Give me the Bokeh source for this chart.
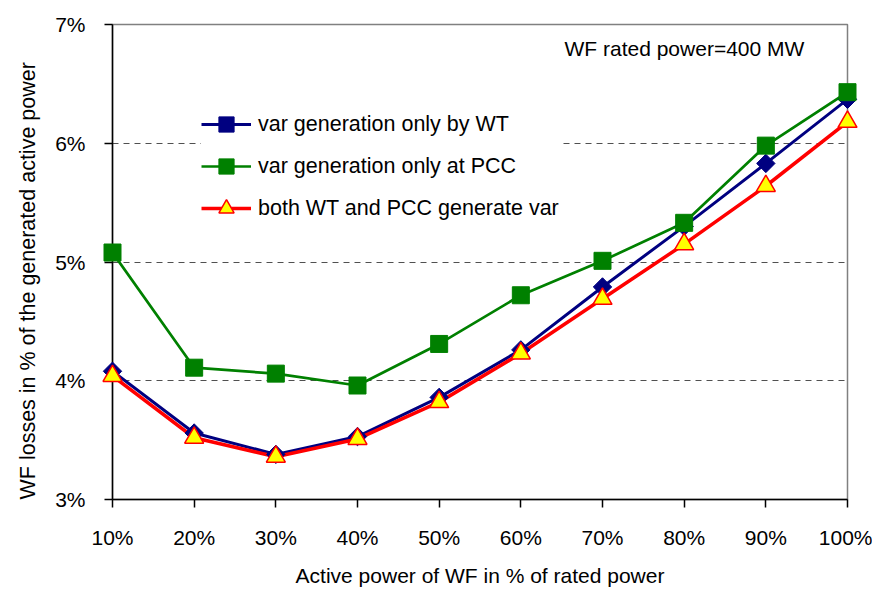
import math
from bokeh.plotting import figure
from bokeh.models import Range1d, FixedTicker, Legend, LegendItem, Label, Title
from bokeh.embed import file_html
from bokeh.resources import INLINE

# ---- data ----
power_pct = [10, 20, 30, 40, 50, 60, 70, 80, 90, 100]
x_tick_labels = ["10%", "20%", "30%", "40%", "50%", "60%", "70%", "80%", "90%", "100%"]
y_ticks = [3, 4, 5, 6, 7]
y_tick_labels = ["3%", "4%", "5%", "6%", "7%"]

loss_wt = [4.08, 3.56, 3.38, 3.53, 3.86, 4.26, 4.79, 5.30, 5.83, 6.37]
loss_pcc = [5.08, 4.11, 4.06, 3.96, 4.31, 4.72, 5.01, 5.33, 5.98, 6.43]
loss_both = [4.04, 3.52, 3.36, 3.51, 3.82, 4.23, 4.69, 5.15, 5.64, 6.18]

series_names = ["var generation only by WT", "var generation only at PCC",
                "both WT and PCC generate var"]

FONT = "Liberation Sans"

p = figure(width=872, height=596, x_range=Range1d(10, 100), y_range=Range1d(3, 7),
           output_backend="svg", toolbar_location=None,
           min_border_left=111, min_border_right=25, min_border_top=24,
           min_border_bottom=97)

p.outline_line_color = "#808080"
p.outline_line_width = 1.5
p.xgrid.grid_line_color = None
p.ygrid.grid_line_color = "#505050"
p.ygrid.grid_line_dash = "6 5"
p.ygrid.grid_line_width = 1

p.xaxis.ticker = FixedTicker(ticks=power_pct)
p.xaxis.major_label_overrides = {v: s for v, s in zip(power_pct, x_tick_labels)}
p.yaxis.ticker = FixedTicker(ticks=y_ticks)
p.yaxis.major_label_overrides = {v: s for v, s in zip(y_ticks, y_tick_labels)}

for ax in (p.xaxis, p.yaxis):
    ax.axis_line_color = "black"
    ax.axis_line_width = 1.5
    ax.major_tick_line_color = "black"
    ax.major_tick_line_width = 1.5
    ax.major_tick_in = 0
    ax.major_tick_out = 8
    ax.minor_tick_line_color = None
    ax.major_label_text_font = FONT
    ax.major_label_text_font_size = "21px"
    ax.major_label_text_color = "black"

p.xaxis.major_label_standoff = 18
p.yaxis.major_label_standoff = 19
p.xaxis.axis_label = "Active power of WF in % of rated power"
p.xaxis.axis_label_text_font = FONT
p.xaxis.axis_label_text_font_size = "21px"
p.xaxis.axis_label_text_font_style = "normal"
p.xaxis.axis_label_text_color = "black"
p.xaxis.axis_label_standoff = 12

# series
l1 = p.line(power_pct, loss_wt, line_color="#000080", line_width=3)
s1 = p.scatter(power_pct, loss_wt, marker="square", size=13, angle=math.pi / 4,
               fill_color="#000080", line_color="#000080", level="overlay")
l2 = p.line(power_pct, loss_pcc, line_color="#008000", line_width=2.7)
s2 = p.scatter(power_pct, loss_pcc, marker="square", size=17,
               fill_color="#008000", line_color="#008000", level="overlay")
l3 = p.line(power_pct, loss_both, line_color="#FF0000", line_width=3.5)
s3 = p.scatter(power_pct, loss_both, marker="triangle", size=19,
               fill_color="#FFFF00", line_color="#FF0000", line_width=1.5,
               level="overlay")

legend = Legend(items=[
    LegendItem(label=series_names[0], renderers=[l1, s1]),
    LegendItem(label=series_names[1], renderers=[l2, s2]),
    LegendItem(label=series_names[2], renderers=[l3, s3]),
], location=(89, 272), glyph_width=50, glyph_height=38, label_height=38,
   spacing=4, padding=0, margin=0, label_standoff=7,
   label_text_font=FONT, label_text_font_size="21.5px", label_text_color="black",
   background_fill_color="white", background_fill_alpha=1.0,
   border_line_color=None)
p.add_layout(legend)

p.add_layout(Title(text="WF losses in % of the generated active power",
                   align="left", offset=0, standoff=26,
                   text_font=FONT, text_font_size="21.5px", text_font_style="normal",
                   text_color="black"), "left")

p.add_layout(Label(x=452, y=451, x_units="screen", y_units="screen",
                   text="WF rated power=400 MW", text_align="left",
                   text_baseline="middle", text_font=FONT, text_font_size="21px",
                   text_color="black"))

open("out.html", "w").write(file_html(p, INLINE))
